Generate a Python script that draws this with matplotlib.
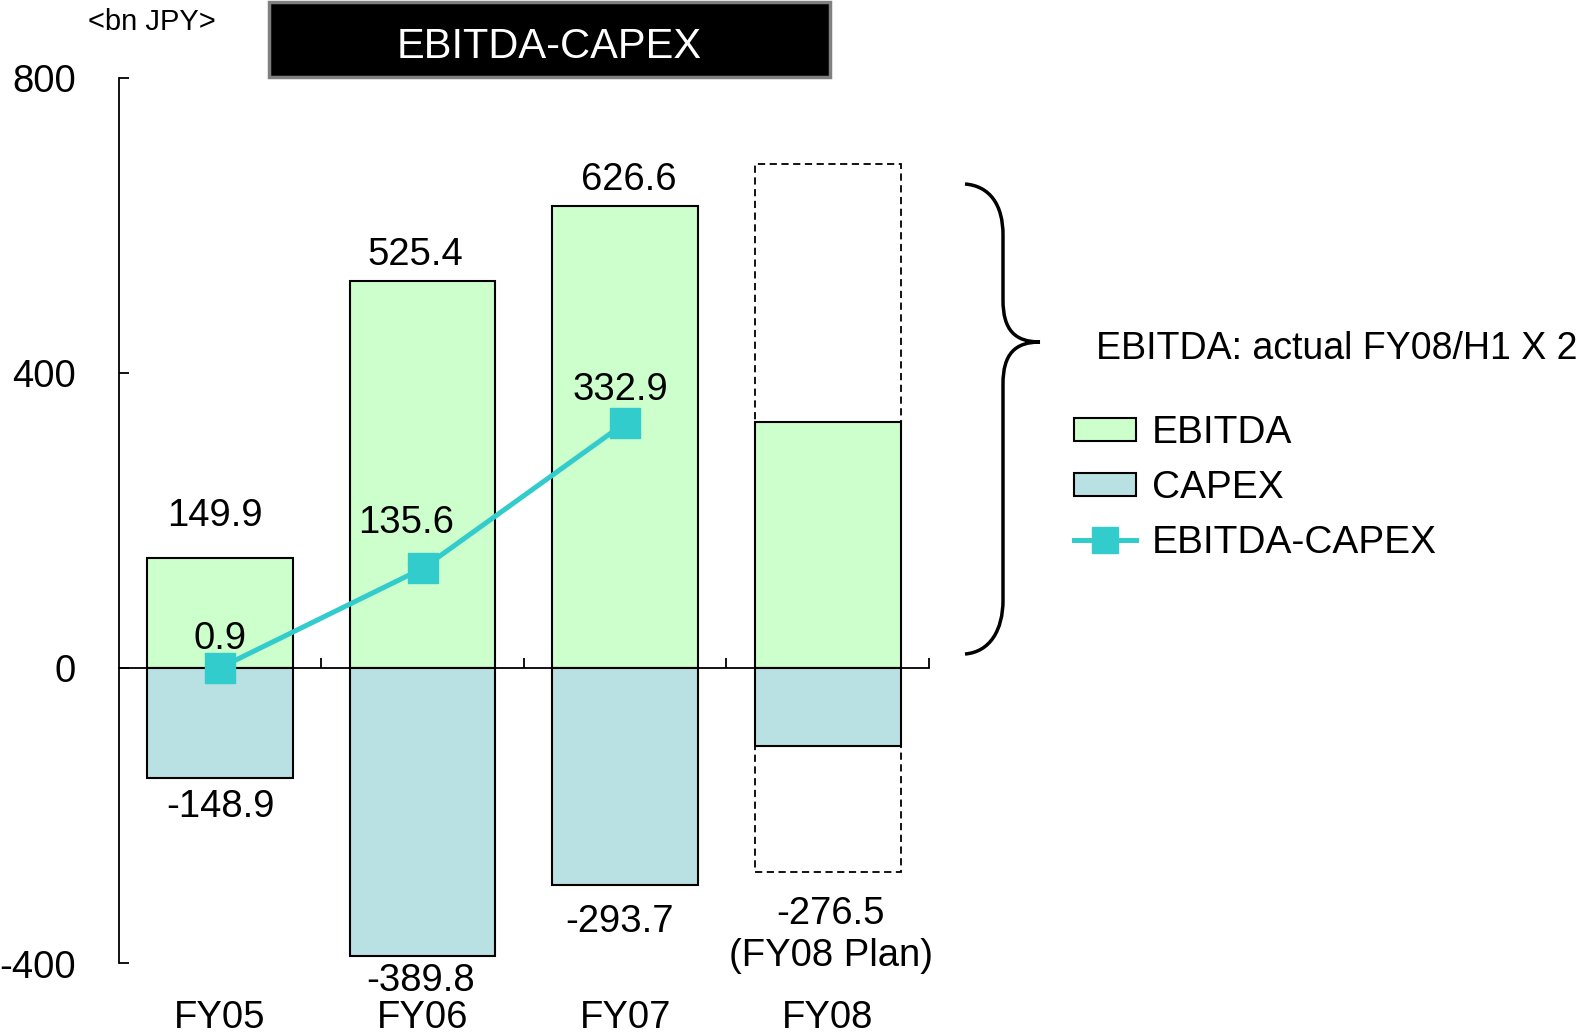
import matplotlib
matplotlib.use('Agg')
import matplotlib.pyplot as plt
from matplotlib.patches import Rectangle, PathPatch, Patch
from matplotlib.path import Path
from matplotlib.lines import Line2D
from matplotlib.transforms import blended_transform_factory

plt.rcParams['font.family'] = ['Liberation Sans', 'DejaVu Sans']

# ---- data (bn JPY) ----
categories = ['FY05', 'FY06', 'FY07', 'FY08']
ebitda = [149.9, 525.4, 626.6, 334.0]          # FY08: first-half actual
capex = [-148.9, -389.8, -293.7, -105.0]       # FY08: first-half actual
ebitda_minus_capex = [0.9, 135.6, 332.9]       # FY05-FY07
ebitda_fy08_annualised = 684.0                 # FY08/H1 x 2
capex_fy08_plan = -276.5
y_ticks = [-400, 0, 400, 800]

W, H = 1577, 1036
GREEN = '#CCFFCC'
BLUE = '#B9E0E2'
TEAL = '#33CCCC'
FS = 27.5

fig = plt.figure(figsize=(W / 100, H / 100), dpi=100)
ax = fig.add_axes([118.7 / W, 1 - 963.5 / H, (929 - 118.7) / W, (963.5 - 78.4) / H])

x = list(range(len(categories)))
bw = 0.72
ax.bar(x, ebitda, bw, color=GREEN, edgecolor='black', linewidth=1.5, zorder=2)
ax.bar(x, capex, bw, color=BLUE, edgecolor='black', linewidth=1.5, zorder=2)

# FY08 outlines: annualised EBITDA and full-year CAPEX plan
i8 = categories.index('FY08')
dash = (0, (4, 2.5))
ax.bar(i8, ebitda_fy08_annualised - ebitda[i8], bw, bottom=ebitda[i8], fill=False,
       edgecolor='black', linestyle=dash, linewidth=1.3, zorder=2)
ax.bar(i8, capex_fy08_plan - capex[i8], bw, bottom=capex[i8], fill=False,
       edgecolor='black', linestyle=dash, linewidth=1.3, zorder=2)

ax.plot(x[:len(ebitda_minus_capex)], ebitda_minus_capex, color=TEAL, lw=3.6,
        marker='s', ms=21, zorder=4)

# axes styling
ax.set_xlim(-0.5, 3.5)
ax.set_ylim(-400, 800)
for s in ('top', 'right'):
    ax.spines[s].set_visible(False)
ax.spines['bottom'].set_position(('data', 0))
ax.spines['bottom'].set_linewidth(1.3)
ax.spines['left'].set_linewidth(1.3)
ax.set_yticks(y_ticks)
ax.set_yticklabels([str(v) for v in y_ticks])
ax.tick_params(axis='y', direction='in', length=7, width=1.3, labelsize=FS, pad=31)
ax.set_xticks([0.5, 1.5, 2.5, 3.5])
ax.set_xticklabels([])
ax.tick_params(axis='x', direction='in', length=7, width=1.3)

# category labels along the bottom of the figure
tr = blended_transform_factory(ax.transData, fig.transFigure)
for i, c in enumerate(categories):
    ax.text(i, 0.5 / H, c, transform=tr, ha='center', va='bottom', fontsize=FS)


def label(text, xi, yv, dx, dy):
    ax.annotate(text, xy=(xi, yv), xytext=(dx, dy), textcoords='offset pixels',
                ha='center', va='baseline', fontsize=FS, zorder=5)


# value labels
ebitda_off = [(-5, 32), (-7, 16), (4, 16)]
for i, (dx, dy) in enumerate(ebitda_off):
    label(f'{ebitda[i]:.1f}', i, ebitda[i], dx, dy)
capex_off = [(1, -39), (-2, -35), (-6, -47)]
for i, (dx, dy) in enumerate(capex_off):
    label(f'{capex[i]:.1f}', i, capex[i], dx, dy)
label(f'{capex_fy08_plan:.1f}', i8, capex_fy08_plan, 3, -52)
label('(FY08 Plan)', i8, capex_fy08_plan, 3, -94)
line_off = [(0, 19), (-16, 35), (-5, 23)]
for i, (dx, dy) in enumerate(line_off):
    label(f'{ebitda_minus_capex[i]:.1f}', i, ebitda_minus_capex[i], dx, dy)


def fp(px, py):
    """figure-fraction coordinates from pixel position measured from the top-left"""
    return (px / W, 1 - py / H)


# unit and title box
fig.text(*fp(152, 30), '<bn JPY>', ha='center', va='baseline', fontsize=21)
fig.patches.append(Rectangle(fp(268.5, 77.4), (829.7 - 268.5) / W, (77.4 - 2) / H,
                             transform=fig.transFigure, facecolor='black',
                             edgecolor='#808080', linewidth=2.5))
fig.text(*fp(549, 58.3), 'EBITDA-CAPEX', color='white', ha='center', va='baseline',
         fontsize=30)

# curly brace for the FY08 annualised note
pts = [(965, 184), (990, 186), (1003, 205), (1003, 235),
       (1003, 300),
       (1003, 330), (1015, 342), (1040, 342),
       (1015, 342), (1003, 354), (1003, 384),
       (1003, 600),
       (1003, 630), (990, 652), (965, 654)]
codes = [Path.MOVETO, Path.CURVE4, Path.CURVE4, Path.CURVE4,
         Path.LINETO,
         Path.CURVE4, Path.CURVE4, Path.CURVE4,
         Path.CURVE4, Path.CURVE4, Path.CURVE4,
         Path.LINETO,
         Path.CURVE4, Path.CURVE4, Path.CURVE4]
brace = Path([fp(*p) for p in pts], codes)
fig.patches.append(PathPatch(brace, transform=fig.transFigure, fill=False,
                             edgecolor='black', linewidth=2.5))
fig.text(*fp(1096, 359), 'EBITDA: actual FY08/H1 X 2', ha='left', va='baseline',
         fontsize=27)

# legend
handles = [Patch(facecolor=GREEN, edgecolor='black', linewidth=1.5),
           Patch(facecolor=BLUE, edgecolor='black', linewidth=1.5),
           Line2D([], [], color=TEAL, lw=3.6, marker='s', ms=19)]
fig.legend(handles, ['EBITDA', 'CAPEX', 'EBITDA-CAPEX'], loc='upper left',
           bbox_to_anchor=fp(1074, 415), bbox_transform=fig.transFigure,
           frameon=False, borderpad=0, borderaxespad=0, fontsize=28,
           handlelength=1.6, handleheight=0.55, handletextpad=0.4, labelspacing=0.49)

fig.savefig('out.png', dpi=100)
